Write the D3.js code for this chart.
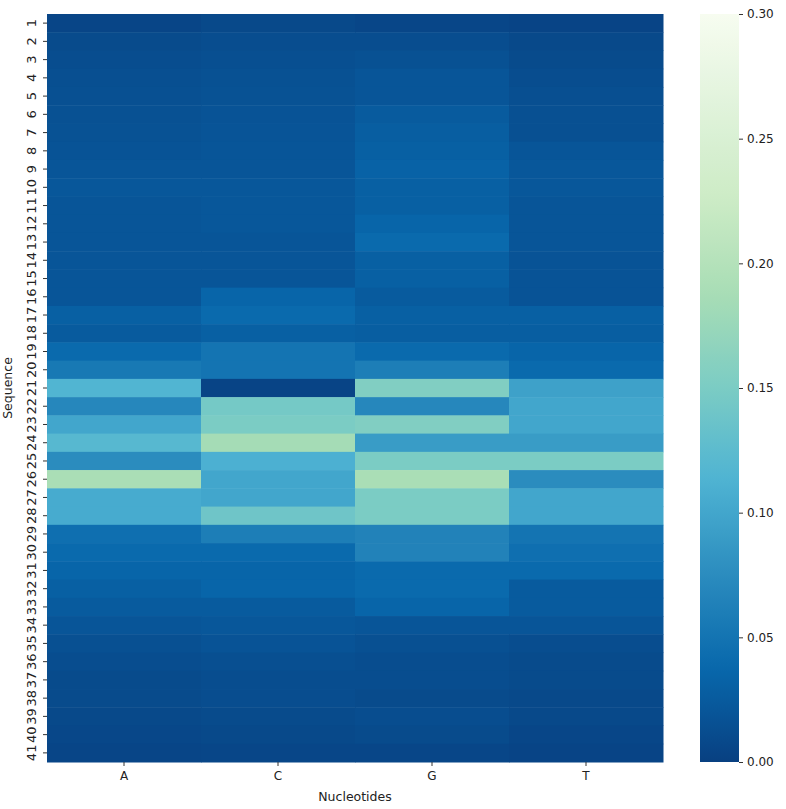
<!DOCTYPE html>
<html>
<head>
<meta charset="utf-8">
<script src="https://cdn.jsdelivr.net/npm/d3@7"></script>
<style>
  body { margin: 0; background: #fff; }
  svg { display: block; }
  text { font-family: "DejaVu Sans", sans-serif; fill: #222; }
</style>
</head>
<body>
<div id="chart"></div>
<script>
const nucleotides = ["A", "C", "G", "T"];
const sequences = d3.range(1, 42).map(String);
const valuesA = [0.005,0.010,0.012,0.014,0.015,0.016,0.017,0.018,0.020,0.022,
                 0.020,0.020,0.020,0.020,0.020,0.020,0.030,0.025,0.040,0.055,
                 0.115,0.070,0.100,0.120,0.075,0.190,0.105,0.105,0.045,0.040,
                 0.035,0.030,0.025,0.020,0.015,0.012,0.010,0.010,0.008,0.007,0.005];
const valuesC = [0.008,0.012,0.014,0.016,0.017,0.018,0.019,0.020,0.020,0.022,
                 0.022,0.022,0.020,0.020,0.020,0.035,0.040,0.030,0.050,0.050,
                 0.004,0.145,0.150,0.185,0.110,0.100,0.100,0.140,0.060,0.040,
                 0.035,0.035,0.025,0.022,0.018,0.014,0.012,0.012,0.010,0.008,0.006];
const valuesG = [0.006,0.012,0.016,0.020,0.020,0.025,0.028,0.030,0.032,0.030,
                 0.030,0.035,0.040,0.030,0.030,0.025,0.030,0.028,0.040,0.060,
                 0.155,0.070,0.155,0.090,0.150,0.190,0.150,0.150,0.065,0.065,
                 0.040,0.040,0.035,0.020,0.015,0.012,0.012,0.010,0.012,0.010,0.006];
const valuesT = [0.004,0.008,0.010,0.012,0.014,0.015,0.015,0.020,0.022,0.022,
                 0.020,0.020,0.020,0.018,0.018,0.018,0.030,0.028,0.035,0.040,
                 0.095,0.100,0.100,0.090,0.150,0.075,0.100,0.100,0.050,0.045,
                 0.040,0.025,0.025,0.020,0.012,0.010,0.010,0.008,0.008,0.006,0.004];
const colorTicks = [0.00, 0.05, 0.10, 0.15, 0.20, 0.25, 0.30];
const vmin = 0, vmax = 0.30;

const seriesByNuc = { A: valuesA, C: valuesC, G: valuesG, T: valuesT };
const cells = [];
nucleotides.forEach(n => seriesByNuc[n].forEach((v, i) => cells.push({ nuc: n, seq: sequences[i], value: v })));

const W = 786, H = 809;
const plot = { left: 47, top: 14, width: 616, height: 748 };
const cbar = { left: 700, top: 14, width: 39, height: 748 };

const svg = d3.select("#chart").append("svg").attr("width", W).attr("height", H);

// GnBu reversed (ColorBrewer 9 stops, linear)
const gnbu = ["#f7fcf0","#e0f3db","#ccebc5","#a8ddb5","#7bccc4","#4eb3d3","#2b8cbe","#0868ac","#084081"];
const color = d3.scaleLinear()
  .domain(gnbu.map((_, i) => vmax - i * (vmax - vmin) / (gnbu.length - 1)))
  .range(gnbu)
  .clamp(true);

const x = d3.scaleBand().domain(nucleotides).range([0, plot.width]).padding(0);
const y = d3.scaleBand().domain(sequences).range([0, plot.height]).padding(0);

const g = svg.append("g").attr("transform", `translate(${plot.left},${plot.top})`);

g.selectAll("rect.cell").data(cells).join("rect")
  .attr("class", "cell")
  .attr("x", d => x(d.nuc))
  .attr("y", d => y(d.seq))
  .attr("width", x.bandwidth() + 0.5)
  .attr("height", y.bandwidth() + 0.5)
  .attr("fill", d => color(d.value));

// X axis
const xAxis = g.append("g").attr("transform", `translate(0,${plot.height})`)
  .call(d3.axisBottom(x).tickSize(4).tickPadding(5));
xAxis.select(".domain").remove();
xAxis.selectAll("line").attr("stroke", "#333");
xAxis.selectAll("text").style("font-size", "12px");

// Y axis
const yAxis = g.append("g").call(d3.axisLeft(y).tickSize(4));
yAxis.select(".domain").remove();
yAxis.selectAll("line").attr("stroke", "#333");
yAxis.selectAll("text")
  .attr("x", 0).attr("dy", "0.35em")
  .attr("text-anchor", "middle")
  .attr("transform", "translate(-16,0) rotate(-90)")
  .style("font-size", "13px");

// Axis titles
svg.append("text")
  .attr("x", plot.left + plot.width / 2).attr("y", 801)
  .attr("text-anchor", "middle").style("font-size", "12.5px")
  .text("Nucleotides");
svg.append("text")
  .attr("transform", `translate(12,${plot.top + plot.height / 2}) rotate(-90)`)
  .attr("text-anchor", "middle").style("font-size", "12.5px")
  .text("Sequence");

// Colorbar
const defs = svg.append("defs");
const grad = defs.append("linearGradient").attr("id", "cbgrad")
  .attr("x1", 0).attr("y1", 1).attr("x2", 0).attr("y2", 0);
d3.range(0, 1.0001, 0.02).forEach(t => {
  grad.append("stop").attr("offset", t).attr("stop-color", color(vmin + t * (vmax - vmin)));
});
svg.append("rect")
  .attr("x", cbar.left).attr("y", cbar.top)
  .attr("width", cbar.width).attr("height", cbar.height)
  .attr("fill", "url(#cbgrad)");

const cScale = d3.scaleLinear().domain([vmin, vmax]).range([cbar.height, 0]);
const cAxis = svg.append("g").attr("transform", `translate(${cbar.left + cbar.width},${cbar.top})`)
  .call(d3.axisRight(cScale).tickValues(colorTicks).tickFormat(d3.format(".2f")).tickSize(4).tickPadding(4));
cAxis.select(".domain").remove();
cAxis.selectAll("line").attr("stroke", "#333");
cAxis.selectAll("text").style("font-size", "12px");
</script>
</body>
</html>
